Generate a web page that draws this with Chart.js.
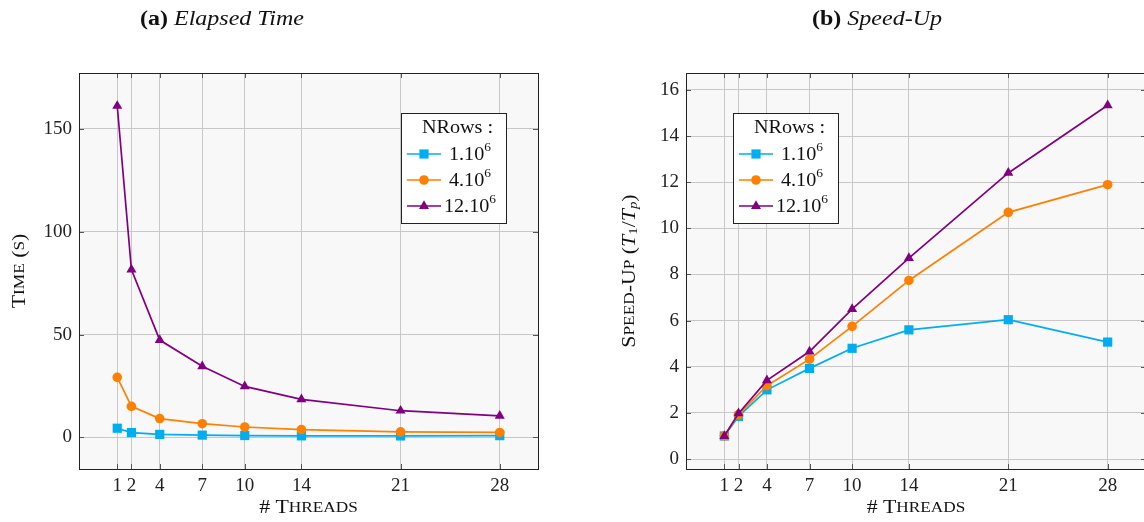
<!DOCTYPE html>
<html>
<head>
<meta charset="utf-8">
<script src="https://cdn.jsdelivr.net/npm/chart.js@4.4.1/dist/chart.umd.min.js"></script>
<style>
  html, body { margin: 0; padding: 0; background: #fff; overflow: hidden; }
  #wrap { position: relative; width: 1144px; height: 522px; overflow: hidden; }
  #timeChart { position: absolute; left: 0; top: 0; }
  #speedChart { position: absolute; left: 590px; top: 0; }
</style>
</head>
<body>
<div id="wrap">
  <canvas id="timeChart" width="590" height="522"></canvas>
  <canvas id="speedChart" width="600" height="522"></canvas>
</div>
<script>
// data
const threads = [1, 2, 4, 7, 10, 14, 21, 28];
const timeRows1M = [4.5, 2.4, 1.5, 1.15, 0.95, 0.8, 0.75, 0.9];
const timeRows4M = [29.2, 15.1, 9.2, 6.7, 5.1, 3.8, 2.75, 2.45];
const timeRows12M = [161, 81.5, 47.3, 34.6, 24.8, 18.5, 13.0, 10.5];
const speedRows1M = [1, 1.85, 3.0, 3.93, 4.8, 5.6, 6.04, 5.07];
const speedRows4M = [1, 1.93, 3.18, 4.33, 5.75, 7.74, 10.69, 11.89];
const speedRows12M = [1, 1.98, 3.41, 4.66, 6.5, 8.71, 12.4, 15.33];
const timeTicks = [0, 50, 100, 150];
const speedTicks = [0, 2, 4, 6, 8, 10, 12, 14, 16];
const seriesNames = ['1.10', '4.10', '12.10'];
const seriesExp = '6';

const SERIF = "'Liberation Serif', 'DejaVu Serif', serif";
const colors = ['#00aeef', '#ff8000', '#800080'];
const styles = ['rect', 'circle', 'triangle'];
const radii = [6.5, 4.8, 5.8];

function pts(ys) {
    return threads.map(function (t, i) { return { x: t, y: ys[i] }; });
}

function makeDatasets(lists) {
    return lists.map(function (ys, i) {
        return {
            label: seriesNames[i] + seriesExp,
            data: pts(ys),
            borderColor: colors[i],
            backgroundColor: colors[i],
            borderWidth: 1.7,
            pointStyle: styles[i],
            pointRadius: radii[i],
            pointBorderWidth: 0,
            order: 2 - i
        };
    });
}

// draw a run of text pieces (mixed size/style), centred on cx, stretched by sx
function drawRuns(ctx, runs, cx, cy, sx) {
    sx = sx || 1.12;
    let total = 0;
    runs.forEach(function (r) {
        ctx.font = (r.style || '') + ' ' + (r.weight || '') + ' ' + r.size + 'px ' + SERIF;
        r.w = ctx.measureText(r.text).width;
        total += r.w;
    });
    ctx.save();
    ctx.translate(cx - total * sx / 2, cy);
    ctx.scale(sx, 1);
    ctx.textBaseline = 'middle';
    ctx.textAlign = 'left';
    let x = 0;
    runs.forEach(function (r) {
        ctx.font = (r.style || '') + ' ' + (r.weight || '') + ' ' + r.size + 'px ' + SERIF;
        ctx.fillText(r.text, x, r.dy || 0);
        x += r.w;
    });
    ctx.restore();
}

const framePlugin = {
    id: 'frame',
    beforeDraw: function (chart) {
        const a = chart.chartArea, ctx = chart.ctx;
        ctx.save();
        ctx.fillStyle = '#f8f8f8';
        ctx.fillRect(a.left, a.top, a.right - a.left, a.bottom - a.top);
        ctx.restore();
    },
    afterDraw: function (chart) {
        const a = chart.chartArea, ctx = chart.ctx, o = chart.options.plugins.frame;
        const xs = chart.scales.x, ys = chart.scales.y;
        ctx.save();
        // inward tick marks on all four sides
        ctx.strokeStyle = '#555';
        ctx.lineWidth = 1;
        ctx.beginPath();
        xs.ticks.forEach(function (t) {
            const px = Math.round(xs.getPixelForValue(t.value)) + 0.5;
            ctx.moveTo(px, a.bottom); ctx.lineTo(px, a.bottom - 5);
            ctx.moveTo(px, a.top); ctx.lineTo(px, a.top + 5);
        });
        ys.ticks.forEach(function (t) {
            const py = Math.round(ys.getPixelForValue(t.value)) + 0.5;
            ctx.moveTo(a.left, py); ctx.lineTo(a.left + 5, py);
            ctx.moveTo(a.right, py); ctx.lineTo(a.right - 5, py);
        });
        ctx.stroke();
        // box
        ctx.strokeStyle = '#222';
        ctx.strokeRect(Math.round(a.left) + 0.5, Math.round(a.top) + 0.5,
            Math.round(a.right - a.left), Math.round(a.bottom - a.top));

        ctx.fillStyle = '#111';
        // caption
        drawRuns(ctx, o.caption, o.captionX, 20, 1.2);
        // x title
        drawRuns(ctx, [
            { text: '# T', size: 19 },
            { text: 'HREADS', size: 15 }
        ], (a.left + a.right) / 2, 508, 1.15);
        // y title
        ctx.save();
        ctx.translate(o.yTitleX, (a.top + a.bottom) / 2);
        ctx.rotate(-Math.PI / 2);
        drawRuns(ctx, o.yTitle, 0, 0, 1.15);
        ctx.restore();

        // legend
        const L = o.legend;
        ctx.fillStyle = '#fff';
        ctx.fillRect(L.x, L.y, L.w, L.h);
        ctx.strokeStyle = '#222';
        ctx.lineWidth = 1;
        ctx.strokeRect(L.x + 0.5, L.y + 0.5, L.w, L.h);
        ctx.fillStyle = '#111';
        drawRuns(ctx, [{ text: 'NRows :', size: 18 }], L.x + L.w / 2 + 4, L.y + 15);
        chart.data.datasets.forEach(function (ds, di) {
            const ry = L.y + 41 + di * 26;
            ctx.strokeStyle = ds.borderColor;
            ctx.lineWidth = 1.7;
            ctx.beginPath();
            ctx.moveTo(L.x + 6, ry); ctx.lineTo(L.x + 40, ry);
            ctx.stroke();
            ctx.fillStyle = ds.backgroundColor;
            Chart.helpers.drawPoint(ctx, { pointStyle: ds.pointStyle, radius: ds.pointRadius, borderWidth: 0 }, L.x + 23, ry);
            ctx.fillStyle = '#111';
            drawRuns(ctx, [
                { text: seriesNames[di], size: 18 },
                { text: seriesExp, size: 12, dy: -7 }
            ], L.x + 69, ry + 1);
        });
        ctx.restore();
    }
};

function makeChart(id, lists, yMin, yMax, yTicks, leftW, rightPad, extra) {
    return new Chart(document.getElementById(id), {
        type: 'line',
        data: { datasets: makeDatasets(lists) },
        options: {
            responsive: false,
            animation: false,
            devicePixelRatio: 1,
            layout: { padding: { left: 0, top: 73, right: rightPad, bottom: 0 } },
            plugins: { legend: { display: false }, tooltip: { enabled: false }, frame: extra },
            scales: {
                x: {
                    type: 'linear', min: -1.7, max: 30.7,
                    afterBuildTicks: function (s) { s.ticks = threads.map(function (v) { return { value: v }; }); },
                    afterFit: function (s) { s.height = 53; },
                    grid: { color: '#c8c8c8', lineWidth: 1, drawTicks: false },
                    border: { display: false },
                    ticks: { color: '#222', font: { family: SERIF, size: 19 }, padding: 6, maxRotation: 0, autoSkip: false }
                },
                y: {
                    type: 'linear', min: yMin, max: yMax,
                    afterBuildTicks: function (s) { s.ticks = yTicks.map(function (v) { return { value: v }; }); },
                    afterFit: function (s) { s.width = leftW; },
                    grid: { color: '#c8c8c8', lineWidth: 1, drawTicks: false },
                    border: { display: false },
                    ticks: { color: '#222', font: { family: SERIF, size: 19 }, padding: 7 }
                }
            }
        },
        plugins: [framePlugin]
    });
}

makeChart('timeChart', [timeRows1M, timeRows4M, timeRows12M], -15.3, 177, timeTicks, 79, 52, {
    captionX: 222,
    caption: [
        { text: '(a) ', size: 20, weight: 'bold' },
        { text: 'Elapsed Time', size: 20, style: 'italic' }
    ],
    yTitleX: 20,
    yTitle: [
        { text: 'T', size: 19 },
        { text: 'IME', size: 15 },
        { text: ' (', size: 19 },
        { text: 'S', size: 15 },
        { text: ')', size: 19 }
    ],
    legend: { x: 401, y: 113, w: 105, h: 110 }
});

makeChart('speedChart', [speedRows1M, speedRows4M, speedRows12M], -0.43, 16.73, speedTicks, 96, 44, {
    captionX: 287,
    caption: [
        { text: '(b) ', size: 20, weight: 'bold' },
        { text: 'Speed-Up', size: 20, style: 'italic' }
    ],
    yTitleX: 40,
    yTitle: [
        { text: 'S', size: 19 },
        { text: 'PEED', size: 15 },
        { text: '-U', size: 19 },
        { text: 'P', size: 15 },
        { text: ' (', size: 19 },
        { text: 'T', size: 19, style: 'italic' },
        { text: '1', size: 13, dy: 4 },
        { text: '/', size: 19 },
        { text: 'T', size: 19, style: 'italic' },
        { text: 'p', size: 13, style: 'italic', dy: 4 },
        { text: ')', size: 19 }
    ],
    legend: { x: 143, y: 113, w: 105, h: 110 }
});
</script>
</body>
</html>
